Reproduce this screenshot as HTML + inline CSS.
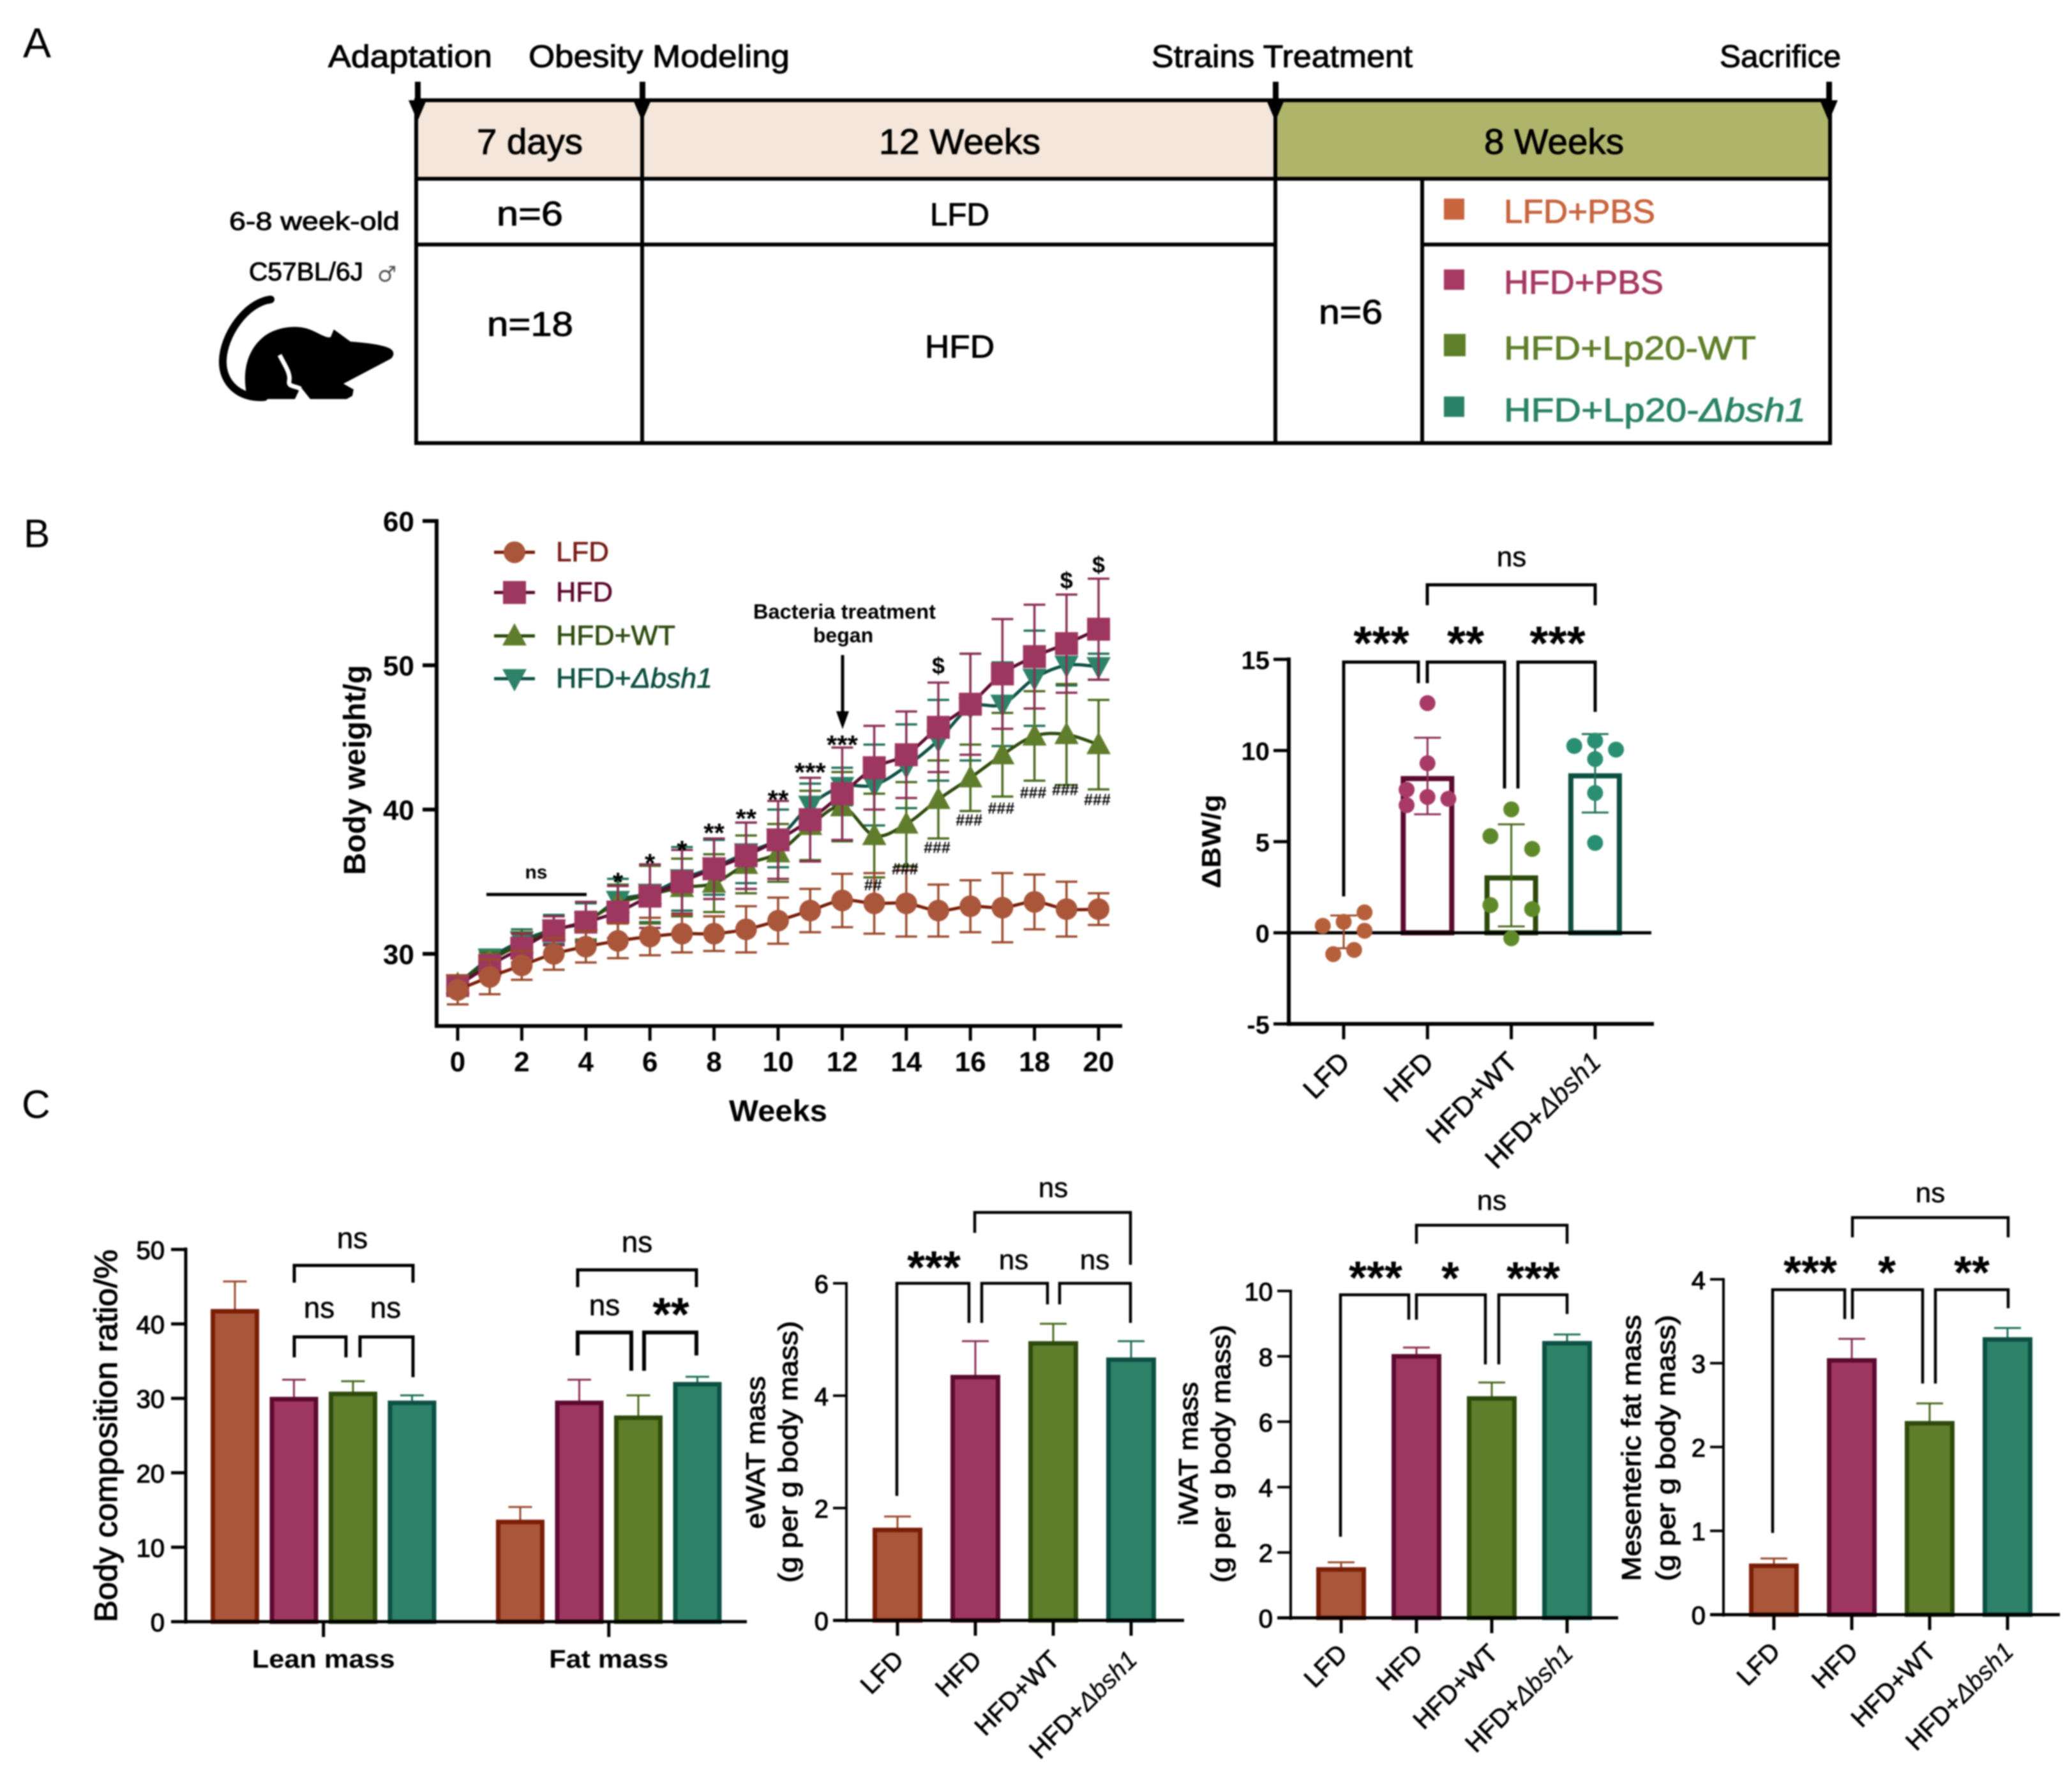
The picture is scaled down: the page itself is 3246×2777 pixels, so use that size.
<!DOCTYPE html>
<html lang="en">
<head>
<meta charset="utf-8">
<title>Body weight and fat mass figure</title>
<style>
html,body{margin:0;padding:0;background:#fff;width:3246px;height:2777px;overflow:hidden}
svg{display:block;filter:blur(1.1px)}
text{font-family:"Liberation Sans","DejaVu Sans",sans-serif}
</style>
</head>
<body>
<svg id="figure" xmlns="http://www.w3.org/2000/svg" width="3246" height="2777" viewBox="0 0 3246 2777">
<rect x="0" y="0" width="3246" height="2777" fill="#ffffff"/>

<g>
  <text x="36" y="90" font-size="66">A</text>
  <rect x="652" y="157" width="1346" height="123" fill="#f4e6da"/>
  <rect x="1998" y="157" width="869" height="123" fill="#aeb56b"/>
  <g stroke="#000" stroke-width="6" fill="none">
    <rect x="652" y="157" width="2215" height="537"/>
    <line x1="652" y1="280" x2="2867" y2="280"/>
    <line x1="652" y1="383" x2="1998" y2="383"/>
    <line x1="2228" y1="383" x2="2867" y2="383"/>
    <line x1="1006" y1="157" x2="1006" y2="694"/>
    <line x1="1998" y1="157" x2="1998" y2="694"/>
    <line x1="2228" y1="280" x2="2228" y2="694"/>
  </g>
  <g>
    <g><rect x="650" y="128" width="9" height="32" fill="#000"/><polygon points="640,157 668,157 654,190" fill="#000"/></g>
    <g><rect x="1002" y="128" width="9" height="32" fill="#000"/><polygon points="992,157 1020,157 1006,190" fill="#000"/></g>
    <g><rect x="1994" y="128" width="9" height="32" fill="#000"/><polygon points="1984,157 2012,157 1998,190" fill="#000"/></g>
    <g><rect x="2861" y="128" width="9" height="32" fill="#000"/><polygon points="2851,157 2879,157 2865,190" fill="#000"/></g>
  </g>
  <g stroke="#000" stroke-width="1">
  <text x="514" y="105" font-size="49" textLength="257" lengthAdjust="spacingAndGlyphs">Adaptation</text>
  <text x="828" y="105" font-size="49" textLength="409" lengthAdjust="spacingAndGlyphs">Obesity Modeling</text>
  <text x="1804" y="105" font-size="49" textLength="409" lengthAdjust="spacingAndGlyphs">Strains Treatment</text>
  <text x="2694" y="105" font-size="49" textLength="190" lengthAdjust="spacingAndGlyphs">Sacrifice</text>
  <text x="747" y="241" font-size="56" textLength="166" lengthAdjust="spacingAndGlyphs">7 days</text>
  <text x="1377" y="241" font-size="56" textLength="253" lengthAdjust="spacingAndGlyphs">12 Weeks</text>
  <text x="2325" y="241" font-size="56" textLength="219" lengthAdjust="spacingAndGlyphs">8 Weeks</text>
  <text x="778" y="353" font-size="54" textLength="104" lengthAdjust="spacingAndGlyphs">n=6</text>
  <text x="1457" y="353" font-size="50" textLength="93" lengthAdjust="spacingAndGlyphs">LFD</text>
  <text x="763" y="526" font-size="54" textLength="135" lengthAdjust="spacingAndGlyphs">n=18</text>
  <text x="1449" y="560" font-size="50" textLength="109" lengthAdjust="spacingAndGlyphs">HFD</text>
  <text x="2066" y="507" font-size="54" textLength="100" lengthAdjust="spacingAndGlyphs">n=6</text>
  <text x="359" y="360" font-size="40" textLength="267" lengthAdjust="spacingAndGlyphs">6-8 week-old</text>
  <text x="390" y="439" font-size="40" textLength="179" lengthAdjust="spacingAndGlyphs">C57BL/6J</text>
  </g>
  <text x="591" y="441" font-size="34" fill="#555" style='font-family:"DejaVu Sans",sans-serif'>♂</text>
  <g>
    <path d="M424,469 C385,474 350,525 349,565 C348,600 375,625 414,622" fill="none" stroke="#000" stroke-width="12" stroke-linecap="round"/>
    <path d="M388,624 C379,590 384,553 410,530 C428,513 465,506 490,518 C503,524 512,530 518,528 L523,516 L549,535 C575,537 600,540 611,546 C618,550 618,557 612,562 L538,601 L554,610 L552,620 L543,625 L486,625 L471,606 L462,625 L414,625 Z" fill="#000"/>
    <path d="M438,556 C445,570 456,585 453,597 C451,606 462,604 471,609" fill="none" stroke="#fff" stroke-width="7"/>
  </g>
  <rect x="2262" y="311" width="32" height="33" fill="#c8653f"/>
  <rect x="2262" y="422" width="32" height="32" fill="#a63a63"/>
  <rect x="2262" y="523" width="34" height="35" fill="#5f7f2a"/>
  <rect x="2262" y="621" width="32" height="32" fill="#2a8367"/>
  <text x="2356" y="349" font-size="52" fill="#c8653f" stroke="#c8653f" stroke-width="1" textLength="237" lengthAdjust="spacingAndGlyphs">LFD+PBS</text>
  <text x="2356" y="460" font-size="52" fill="#a63a63" stroke="#a63a63" stroke-width="1" textLength="250" lengthAdjust="spacingAndGlyphs">HFD+PBS</text>
  <text x="2356" y="563" font-size="52" fill="#5f7f2a" stroke="#5f7f2a" stroke-width="1" textLength="395" lengthAdjust="spacingAndGlyphs">HFD+Lp20-WT</text>
  <text x="2356" y="660" font-size="52" fill="#2a8367" stroke="#2a8367" stroke-width="1" textLength="473" lengthAdjust="spacingAndGlyphs">HFD+Lp20-<tspan font-style="italic">Δbsh1</tspan></text>
  <text x="37" y="857" font-size="62">B</text>
  <text x="34" y="1751" font-size="62">C</text>
</g>

<g id="weight-chart"></g>
<g id="delta-chart"></g>
<g id="composition-chart"></g>
<g id="ewat-chart"></g>
<g id="iwat-chart"></g>
<g id="mesenteric-chart"></g>
</svg>

<script>
// ---------- Body weight chart data ----------
const weeks = [0,1,2,3,4,5,6,7,8,9,10,11,12,13,14,15,16,17,18,19,20];
const weekTicks = [0,2,4,6,8,10,12,14,16,18,20];
const weightTicks = [30,40,50,60];
const lfdWeight = [27.5,28.4,29.2,30,30.5,30.9,31.2,31.4,31.4,31.7,32.3,33,33.7,33.5,33.5,33,33.3,33.2,33.6,33.1,33.1];
const lfdWeightErr = [1,1.2,1,1.1,1.1,1.2,1.3,1.3,1.2,1.6,1.6,1.5,1.85,2.1,2.3,1.8,1.8,2.4,1.9,1.9,1.1];
const hfdWeight = [27.8,29.2,30.4,31.6,32.2,32.9,34,35,35.9,36.8,37.9,39.3,41.1,42.9,43.8,45.7,47.3,49.4,50.6,51.5,52.5];
const hfdWeightErr = [0.7,0.7,1,1,1.4,1.8,2.2,2.2,2.1,2.3,2.7,2.9,3.2,2.9,3,3.1,3.5,3.8,3.6,3.4,3.5];
const wtWeight = [27.9,29.5,30.7,31.6,32.3,33.5,34.1,34.6,34.9,36.2,37,38.9,40.2,38.2,39,40.7,42.2,43.8,45.1,45.2,44.5];
const wtWeightErr = [0.6,0.6,0.8,1,1.3,1.3,2,2,2,2,2,2.4,2.4,2.9,2.9,2.7,2.3,2.9,3.1,3.5,3.1];
const bshWeight = [27.9,29.7,30.9,31.7,32.2,33.7,34.2,35.2,36,37,38,40.3,41.6,41.7,43,44.8,47.1,47.3,49.1,50,49.9];
const bshWeightErr = [0.6,0.6,0.8,1,1.3,1.5,2,2.2,1.9,2.1,2,1.5,1.3,2.8,2.9,2.8,3.7,2.9,3.3,1.4,0.9];
const starWeeks = [5,6,7,8,9,10,11,12];
const starLabels = ['*','*','*','**','**','**','***','***'];
const starLevels = [35.2,36.5,37.4,38.6,39.6,40.9,42.8,44.7];
const dollarWeeks = [15,19,20];
const dollarLevels = [50,55.9,57];
const hashWeeks = [13,14,15,16,17,18,19,20];
const hashLabels = ['##','###','###','###','###','###','###','###'];
const hashLevels = [34.8,35.9,37.4,39.3,40.1,41.2,41.4,40.7];

// ---------- Delta body weight data ----------
const groupNames = ['LFD','HFD','HFD+WT','HFD+Δbsh1'];
const deltaTicks = [-5,0,5,10,15];
const deltaMeans = [0.05,8.6,3.15,8.75];
const deltaErrs = [0.9,2.1,2.8,2.15];
const deltaLfdPoints = [0.38,0.6,1.12,0.11,-0.94,-1.17];
const deltaHfdPoints = [12.6,9.3,7.85,7,7.45,7.35];
const deltaWtPoints = [6.77,5.3,4.6,1.52,1.3,-0.3];
const deltaBshPoints = [10.54,10.25,10.05,9.53,7.67,4.93];
const deltaLfdSwarm = [-1,0,1,1,0.5,-0.5];
const deltaHfdSwarm = [0,0,-1,-1,0,1];
const deltaWtSwarm = [0,-1,1,-1,1,0];
const deltaBshSwarm = [0,-1,1,0,0,0];

// ---------- Panel C data ----------
const compositionGroups = ['Lean mass','Fat mass'];
const compositionTicks = [0,10,20,30,40,50];
const leanMeans = [42,30.2,30.9,29.7];
const leanErrs = [3.7,2.3,1.4,0.7];
const fatMeans = [13.7,29.7,27.7,32.2];
const fatErrs = [1.7,2.8,2.7,0.7];
const ewatTicks = [0,2,4,6];
const ewatMeans = [1.65,4.37,4.97,4.68];
const ewatErrs = [0.2,0.6,0.31,0.29];
const iwatTicks = [0,2,4,6,8,10];
const iwatMeans = [1.55,8.07,6.78,8.47];
const iwatErrs = [0.15,0.2,0.42,0.2];
const mesentericTicks = [0,1,2,3,4];
const mesentericMeans = [0.61,3.06,2.31,3.31];
const mesentericErrs = [0.06,0.23,0.21,0.11];

// ---------- Styling ----------
const NS = 'http://www.w3.org/2000/svg';
const fills = ['#a9563a','#9e375f','#5f7d2b','#2d8268'];
const strokes = ['#7a1e08','#5c0a30','#2e4a0c','#0d5044'];
const dots = ['#b5603a','#a83a66','#5f8a2a','#2a8f72'];
const whisk = ['#9a4a2c','#8a2f55','#4a6a1e','#1f6f58'];
const TEXT_WEIGHT_STROKE = 1.1;

function mk(parent, tag, attrs, content) {
  const el = document.createElementNS(NS, tag);
  for (const k in attrs) el.setAttribute(k, attrs[k]);
  if (content !== undefined) el.textContent = content;
  parent.appendChild(el);
  return el;
}

function drawLine(parent, x1, y1, x2, y2, color, w) {
  return mk(parent, 'line', {x1:x1, y1:y1, x2:x2, y2:y2, stroke:color, 'stroke-width':w});
}

function drawAxisLine(parent, x1, y1, x2, y2, w) {
  const el = drawLine(parent, x1, y1, x2, y2, '#000', w);
  
  
  return el;
}

function drawTick(parent, x1, y1, x2, y2, w) {
  const el = drawLine(parent, x1, y1, x2, y2, '#000', w);
  
  
}

function tickLabel(parent, value, x, y, size, weight, anchor) {
  const el = mk(parent, 'text', {x:x, y:y, 'font-size':size, 'font-weight':weight, 'text-anchor':anchor, stroke:'#000', 'stroke-width':weight === 'bold' ? 0 : TEXT_WEIGHT_STROKE}, value);
  
  
}

function axisTitle(parent, value, x, cy, size, weight, len) {
  const el = mk(parent, 'text', {x:0, y:0, 'font-size':size, 'font-weight':weight, 'text-anchor':'middle', transform:'translate('+x+','+cy+') rotate(-90)', textLength:len, lengthAdjust:'spacingAndGlyphs', stroke:'#000', 'stroke-width':weight === 'bold' ? 0 : TEXT_WEIGHT_STROKE}, value);
  
  
}

function groupLabel(parent, name, x, y, size) {
  const el = mk(parent, 'text', {x:0, y:0, 'font-size':size, 'text-anchor':'end', transform:'translate('+x+','+y+') rotate(-45)', stroke:'#000', 'stroke-width':0.8});
  
  
  const parts = name.split('Δ');
  el.appendChild(document.createTextNode(parts[0]));
  if (parts.length > 1) {
    const it = mk(el, 'tspan', {'font-style':'italic', 'stroke-width':0.2}, 'Δ' + parts[1]);
    
    
  }
}

function bracket(parent, x1, x2, top, d1, d2, w) {
  const el = mk(parent, 'path', {d:'M'+x1+','+d1+' L'+x1+','+top+' L'+x2+','+top+' L'+x2+','+d2, fill:'none', stroke:'#000', 'stroke-width':w});
  
  
}

function nsText(parent, cx, baseline, size) {
  const el = mk(parent, 'text', {x:cx, y:baseline, 'font-size':size, 'text-anchor':'middle', stroke:'#000', 'stroke-width':0.5}, 'ns');
  
  
}

function starText(parent, label, cx, cy, size) {
  const el = mk(parent, 'text', {x:cx, y:cy + size * 0.46, 'font-size':size, 'font-weight':'bold', 'text-anchor':'middle'}, label);
  
  
}

function errorBar(parent, x, yHi, yLo, capW, color, w) {
  const stem = drawLine(parent, x, yHi, x, yLo, color, w);
  
  
  const capTop = drawLine(parent, x - capW / 2, yHi, x + capW / 2, yHi, color, w);
  
  
}

// ---------- Body weight line chart ----------
(function () {
  const g = document.getElementById('weight-chart');
  const xW = function (w) { return 717 + 50.2 * w; };
  const yV = function (v) { return 1494 - (v - 30) * 22.6; };
  drawAxisLine(g, 684, yV(60) - 3, 684, yV(25) + 3, 6);
  drawAxisLine(g, 681, yV(25), 1758, yV(25), 6);
  weightTicks.forEach(function (t) {
    drawTick(g, 662, yV(t), 684, yV(t), 6);
    tickLabel(g, String(t), 649, yV(t) + 16, 44, 'bold', 'end');
  });
  weekTicks.forEach(function (t) {
    drawTick(g, xW(t), yV(25), xW(t), yV(25) + 23, 5);
    tickLabel(g, String(t), xW(t), 1678, 44, 'bold', 'middle');
  });
  const xt = mk(g, 'text', {x:1219, y:1756, 'font-size':47, 'font-weight':'bold', 'text-anchor':'middle', textLength:154, lengthAdjust:'spacingAndGlyphs'}, 'Weeks');
  
  
  axisTitle(g, 'Body weight/g', 572, 1206, 48, 'bold', 329);

  function smoothPath(values) {
    const pts = weeks.map(function (w, i) { return [xW(w), yV(values[i])]; });
    let d = 'M' + pts[0][0] + ',' + pts[0][1];
    for (let i = 0; i < pts.length - 1; i++) {
      const p0 = pts[Math.max(0, i - 1)], p1 = pts[i], p2 = pts[i + 1], p3 = pts[Math.min(pts.length - 1, i + 2)];
      const c1x = p1[0] + (p2[0] - p0[0]) / 6, c1y = p1[1] + (p2[1] - p0[1]) / 6;
      const c2x = p2[0] - (p3[0] - p1[0]) / 6, c2y = p2[1] - (p3[1] - p1[1]) / 6;
      d += ' C' + c1x + ',' + c1y + ' ' + c2x + ',' + c2y + ' ' + p2[0] + ',' + p2[1];
    }
    return d;
  }

  function marker(parent, kind, cx, cy, color) {
    let el;
    if (kind === 0) {
      el = mk(parent, 'circle', {cx:cx, cy:cy, r:17, fill:color});
    } else if (kind === 1) {
      el = mk(parent, 'rect', {x:cx - 18, y:cy - 18, width:36, height:36, fill:color});
    } else if (kind === 2) {
      el = mk(parent, 'polygon', {points:(cx - 19) + ',' + (cy + 15) + ' ' + (cx + 19) + ',' + (cy + 15) + ' ' + cx + ',' + (cy - 20), fill:color});
    } else {
      el = mk(parent, 'polygon', {points:(cx - 19) + ',' + (cy - 15) + ' ' + (cx + 19) + ',' + (cy - 15) + ' ' + cx + ',' + (cy + 20), fill:color});
    }
    
    
  }

  function series(idx, values, errs) {
    errs.forEach(function (e, i) {
      const x = xW(weeks[i]);
      const hi = yV(values[i] + e), lo = yV(values[i] - e);
      errorBar(g, x, hi, lo, 34, whisk[idx], 3.5);
      const capLo = drawLine(g, x - 17, lo, x + 17, lo, whisk[idx], 3.5);
      
      
    });
    const path = mk(g, 'path', {d:smoothPath(values), fill:'none', stroke:strokes[idx], 'stroke-width':5});
    
    
    values.forEach(function (v, i) { marker(g, idx, xW(weeks[i]), yV(v), fills[idx]); });
  }
  series(3, bshWeight, bshWeightErr);
  series(2, wtWeight, wtWeightErr);
  series(1, hfdWeight, hfdWeightErr);
  series(0, lfdWeight, lfdWeightErr);

  // legend
  const legendNames = ['LFD','HFD','HFD+WT','HFD+Δbsh1'];
  const legendTextColors = ['#7a1f1a','#5d0a2d','#2f4d10','#0d4f40'];
  const legendLengths = [83,89,187,245];
  const legendRows = [865,928,996,1063];
  legendNames.forEach(function (name, i) {
    const cy = legendRows[i];
    const ln = drawLine(g, 774, cy, 838, cy, strokes[i], 5);
    
    
    marker(g, i, 806, cy, fills[i]);
    const parts = name.split('Δ');
    const t = mk(g, 'text', {x:871, y:cy + 14, 'font-size':44, fill:legendTextColors[i], stroke:legendTextColors[i], 'stroke-width':0.8, textLength:legendLengths[i], lengthAdjust:'spacingAndGlyphs'}, parts[0]);
    
    
    if (parts.length > 1) {
      const it = mk(t, 'tspan', {'font-style':'italic'}, 'Δ' + parts[1]);
      
      
    }
  });

  // annotations
  const nsLine = drawLine(g, 762, 1401, 919, 1401, '#000', 5);
  
  
  const nsT = mk(g, 'text', {x:840, y:1376, 'font-size':30, 'font-weight':'bold', 'text-anchor':'middle'}, 'ns');
  
  
  const bt1 = mk(g, 'text', {x:1323, y:969, 'font-size':32, 'font-weight':'bold', 'text-anchor':'middle', textLength:286, lengthAdjust:'spacingAndGlyphs'}, 'Bacteria treatment');
  
  
  const bt2 = mk(g, 'text', {x:1321, y:1006, 'font-size':32, 'font-weight':'bold', 'text-anchor':'middle'}, 'began');
  
  
  const arrowShaft = drawLine(g, 1320, 1026, 1320, 1118, '#000', 5);
  
  
  const arrowHead = mk(g, 'polygon', {points:'1310,1114 1330,1114 1320,1142', fill:'#000'});
  
  

  starWeeks.forEach(function (w, i) {
    starText(g, starLabels[i], xW(w), yV(starLevels[i]), 42);
  });
  dollarWeeks.forEach(function (w, i) {
    const d = mk(g, 'text', {x:xW(w), y:yV(dollarLevels[i]) + 13, 'font-size':36, 'font-weight':'bold', 'text-anchor':'middle'}, '$');
    
    
  });
  hashWeeks.forEach(function (w, i) {
    const h = mk(g, 'text', {x:xW(w) - 2, y:yV(hashLevels[i]) + 9, 'font-size':25, 'font-weight':'bold', 'text-anchor':'middle'}, hashLabels[i]);
    
    
  });
})();

// ---------- Delta body weight chart ----------
(function () {
  const g = document.getElementById('delta-chart');
  const yV = function (v) { return 1461 - v * 28.55; };
  const xG = function (i) { return 2105 + i * 131.3; };
  const unit = 32.7;
  const allPoints = [deltaLfdPoints, deltaHfdPoints, deltaWtPoints, deltaBshPoints];
  const allSwarm = [deltaLfdSwarm, deltaHfdSwarm, deltaWtSwarm, deltaBshSwarm];

  deltaMeans.forEach(function (m, i) {
    const base = yV(0), x = xG(i);
    const top = Math.min(yV(m) + 4, base);
    const h = base - top;
    const bar = mk(g, 'rect', {x:x - 38, y:top, width:76, height:h, fill:'none', stroke:strokes[i], 'stroke-width':8});
    
    
  });
  drawAxisLine(g, 2019, yV(15) - 3, 2019, yV(-5) + 3, 6);
  drawAxisLine(g, 2016, yV(-5), 2591, yV(-5), 6);
  drawAxisLine(g, 2019, yV(0), 2587, yV(0), 5);
  deltaTicks.forEach(function (t) {
    drawTick(g, 1995, yV(t), 2019, yV(t), 5);
    tickLabel(g, String(t), 1989, yV(t) + 15, 40, 'bold', 'end');
  });
  groupNames.forEach(function (name, i) {
    drawTick(g, xG(i), yV(-5), xG(i), yV(-5) + 24, 5);
    groupLabel(g, name, xG(i) + 12, 1666, 43);
  });
  deltaMeans.forEach(function (m, i) {
    const x = xG(i);
    const hi = yV(m + deltaErrs[i]), lo = yV(m - deltaErrs[i]);
    errorBar(g, x, hi, lo, 42, whisk[i], 3);
    const capLo = drawLine(g, x - 21, lo, x + 21, lo, whisk[i], 3);
    
    
    allPoints[i].forEach(function (v, j) {
      const dot = mk(g, 'circle', {cx:x + allSwarm[i][j] * unit, cy:yV(v), r:12.5, fill:dots[i]});
      
      
    });
  });
  axisTitle(g, 'ΔBW/g', 1912, 1318, 42, 'bold', 147);
  bracket(g, 2105, 2222, 1037, 1404, 1070, 5);
  bracket(g, 2236, 2357, 1037, 1070, 1235, 5);
  bracket(g, 2378, 2499, 1037, 1235, 1115, 5);
  bracket(g, 2236, 2499, 916, 948, 948, 5);
  starText(g, '***', 2164, 999, 75);
  starText(g, '**', 2296, 999, 75);
  starText(g, '***', 2440, 999, 75);
  nsText(g, 2368, 887, 44);
})();

// ---------- Filled bar helper ----------
function filledBar(parent, x, w, top, base, i) {
  const bar = mk(parent, 'rect', {x:x - w / 2 + 3.5, y:top + 3.5, width:w - 7, height:Math.max(base - top - 3.5, 0), fill:fills[i], stroke:strokes[i], 'stroke-width':7});
  
  
}

// ---------- Body composition chart ----------
(function () {
  const g = document.getElementById('composition-chart');
  const yV = function (v) { return 2540 - v * 11.66; };
  const xB = function (group, i) { return 368 + group * 447 + i * 92.5; };
  [leanMeans, fatMeans].forEach(function (means, group) {
    const errs = group === 0 ? leanErrs : fatErrs;
    means.forEach(function (m, i) {
      const yTop = yV(m);
      const stem = yV(m + errs[i]);
      errorBar(g, xB(group, i), stem, yTop + 4, 37, whisk[i], 3);
      filledBar(g, xB(group, i), 76, yTop, yV(0), i);
    });
  });
  drawAxisLine(g, 291, yV(50) - 3, 291, yV(0) + 3, 5);
  drawAxisLine(g, 268, yV(0), 1170, yV(0), 5);
  compositionTicks.forEach(function (t) {
    drawTick(g, 268, yV(t), 291, yV(t), 5);
    tickLabel(g, String(t), 258, yV(t) + 15, 40, 'normal', 'end');
  });
  compositionGroups.forEach(function (name, group) {
    const x = (xB(group, 1) + xB(group, 2)) / 2;
    drawTick(g, x, yV(0), x, yV(0) + 24, 5);
    const t = mk(g, 'text', {x:x, y:2612, 'font-size':40, 'font-weight':'bold', 'text-anchor':'middle', textLength:group === 0 ? 224 : 187, lengthAdjust:'spacingAndGlyphs'}, name);
    
    
  });
  axisTitle(g, 'Body composition ratio/%', 183, 2249, 50, 'normal', 584);
  bracket(g, 461, 647, 1982, 2009, 2009, 5);
  bracket(g, 461, 542, 2094, 2126, 2126, 5);
  bracket(g, 564, 647, 2094, 2126, 2157, 5);
  bracket(g, 905, 1091, 1989, 2016, 2016, 5);
  bracket(g, 905, 989, 2087, 2123, 2147, 6);
  bracket(g, 1009, 1091, 2087, 2147, 2123, 6);
  nsText(g, 552, 1955, 46);
  nsText(g, 500, 2064, 46);
  nsText(g, 604, 2064, 46);
  nsText(g, 998, 1961, 46);
  nsText(g, 947, 2060, 46);
  starText(g, '**', 1051, 2050, 74);
})();

// ---------- Organ mass charts ----------
function organPanel(cfg) {
  const g = document.getElementById(cfg.id);
  const yV = function (v) { return cfg.y0 - v * cfg.perUnit; };
  const xG = function (i) { return cfg.xStart + i * cfg.step; };
  cfg.means.forEach(function (m, i) {
    const yTop = yV(m);
    errorBar(g, xG(i), yV(m + cfg.errs[i]), yTop + 4, 42, whisk[i], 3);
    filledBar(g, xG(i), 78, yTop, cfg.y0, i);
  });
  drawAxisLine(g, cfg.axisX, yV(cfg.ticks[cfg.ticks.length - 1]) - 2, cfg.axisX, cfg.y0 + 3, 4);
  drawAxisLine(g, cfg.axisX - 21, cfg.y0, cfg.axisEnd, cfg.y0, 5);
  cfg.ticks.forEach(function (t) {
    drawTick(g, cfg.axisX - 21, yV(t), cfg.axisX, yV(t), 4);
    tickLabel(g, String(t), cfg.axisX - 28, yV(t) + 15, 40, 'normal', 'end');
  });
  groupNames.forEach(function (name, i) {
    drawTick(g, xG(i), cfg.y0, xG(i), cfg.y0 + 24, 5);
    groupLabel(g, name, xG(i) + 12, cfg.y0 + cfg.labelDrop, 40);
  });
  axisTitle(g, cfg.title, cfg.titleX, cfg.titleCy, 42, 'normal', cfg.titleLen);
  axisTitle(g, '(g per g body mass)', cfg.subX, cfg.subCy, 42, 'normal', cfg.subLen);
  cfg.brackets.forEach(function (b) { bracket(g, b[0], b[1], b[2], b[3], b[4], 4.5); });
  cfg.stars.forEach(function (s) { starText(g, s[0], s[1], s[2], 72); });
  cfg.ns.forEach(function (n) { nsText(g, n[0], n[1], 44); });
}

organPanel({id:'ewat-chart', y0:2538, perUnit:88, xStart:1406, step:122, axisX:1326, axisEnd:1855, labelDrop:64,
  means:ewatMeans, errs:ewatErrs, ticks:ewatTicks,
  title:'eWAT mass', titleX:1198, titleCy:2275, titleLen:239,
  subX:1249, subCy:2274, subLen:410,
  brackets:[[1527,1771,1899,1931,1981],[1405,1518,2010,2343,2072],[1538,1641,2010,2072,2043],[1660,1771,2010,2043,2072]],
  stars:[['***',1463,1977]],
  ns:[[1650,1875],[1588,1988],[1715,1988]]});

organPanel({id:'iwat-chart', y0:2534, perUnit:51.2, xStart:2101, step:118, axisX:2022, axisEnd:2535, labelDrop:58,
  means:iwatMeans, errs:iwatErrs, ticks:iwatTicks,
  title:'iWAT mass', titleX:1876, titleCy:2277, titleLen:225,
  subX:1927, subCy:2277, subLen:404,
  brackets:[[2219,2455,1919,1948,1948],[2100,2207,2028,2407,2067],[2219,2327,2028,2067,2137],[2348,2455,2028,2137,2058]],
  stars:[['***',2155,1993],['*',2272,1994],['***',2402,1994]],
  ns:[[2337,1895]]});

organPanel({id:'mesenteric-chart', y0:2529, perUnit:131.3, xStart:2779, step:122, axisX:2700, axisEnd:3227, labelDrop:60,
  means:mesentericMeans, errs:mesentericErrs, ticks:mesentericTicks,
  title:'Mesenteric fat mass', titleX:2570, titleCy:2268, titleLen:417,
  subX:2624, subCy:2268, subLen:417,
  brackets:[[2902,3146,1907,1938,1938],[2777,2890,2020,2401,2066],[2902,3012,2020,2066,2167],[3032,3146,2020,2167,2049]],
  stars:[['***',2836,1985],['*',2956,1985],['**',3089,1985]],
  ns:[[3024,1883]]});
</script>
</body>
</html>
